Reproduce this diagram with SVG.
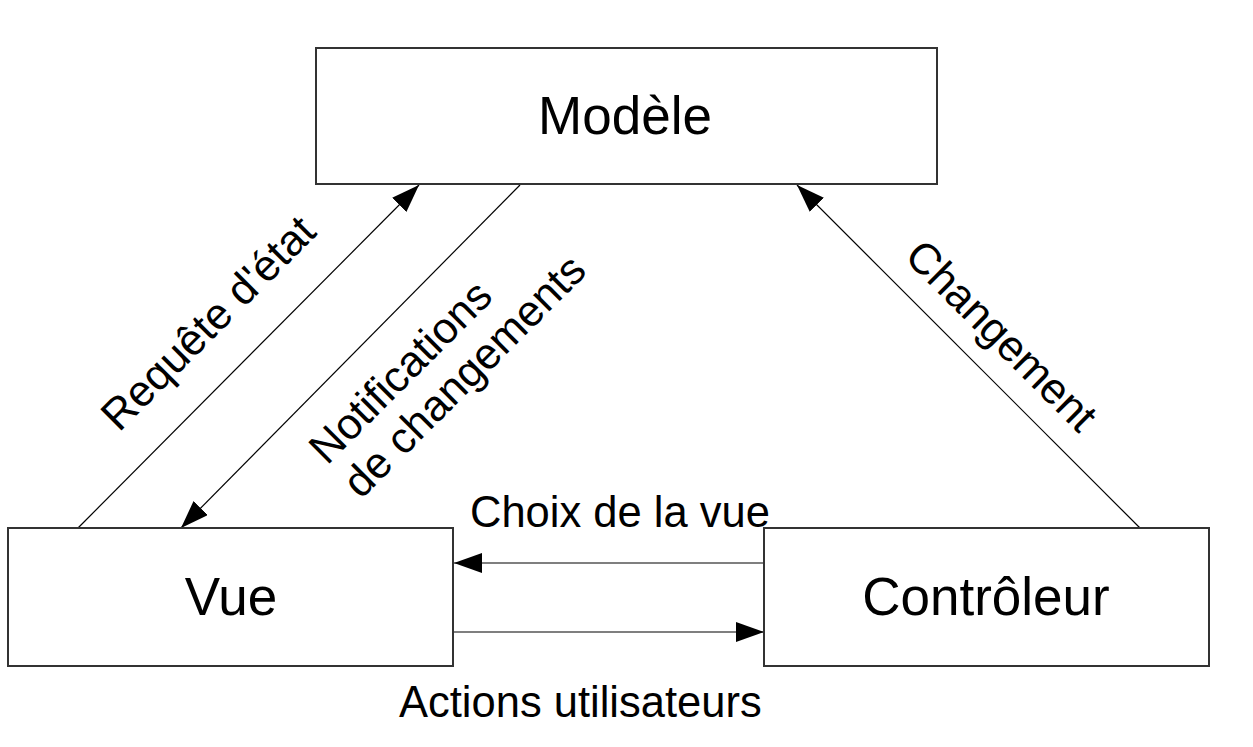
<svg xmlns="http://www.w3.org/2000/svg" width="1253" height="747" viewBox="0 0 1253 747">
<style>
.box{fill:#fff;stroke:#333;stroke-width:2}
.node{font-family:"Liberation Sans",Arial,sans-serif;font-size:53px;fill:#000;text-anchor:middle}
.lbl{font-family:"Liberation Sans",Arial,sans-serif;font-size:43.5px;fill:#000}
.edge{stroke:#000;stroke-width:1.2;fill:none;marker-end:url(#ah)}
</style>
<defs>
<marker id="ah" markerUnits="userSpaceOnUse" markerWidth="28" markerHeight="20" viewBox="0 0 28 20" refX="28" refY="10" orient="auto">
<path d="M0,0 L28,10 L0,20 z" fill="#000"/>
</marker>
</defs>
<rect width="1253" height="747" fill="#fff"/>
<g id="connectors">
<line class="edge" x1="78" y1="528" x2="419" y2="185"/>
<line class="edge" x1="520" y1="185" x2="181" y2="528"/>
<line class="edge" x1="1140" y1="528" x2="797" y2="185"/>
<line class="edge" x1="764" y1="563" x2="454" y2="563"/>
<line class="edge" x1="454" y1="632" x2="764" y2="632"/>
<text class="lbl" transform="translate(119,433) rotate(-45)">Requête d'état</text>
<text class="lbl" transform="translate(327,466) rotate(-45)"><tspan x="0" y="0">Notifications</tspan><tspan x="0" y="48">de changements</tspan></text>
<text class="lbl" transform="translate(903,258) rotate(45)">Changement</text>
<text class="lbl" x="470" y="527">Choix de la vue</text>
<text class="lbl" x="399" y="717">Actions utilisateurs</text>
</g>
<g id="modele">
<rect class="box" x="316" y="48" width="621" height="136"/>
<text class="node" x="625" y="134">Modèle</text>
</g>
<g id="vue">
<rect class="box" x="8" y="528" width="445" height="138"/>
<text class="node" x="231" y="615">Vue</text>
</g>
<g id="controleur">
<rect class="box" x="764" y="528" width="445" height="138"/>
<text class="node" x="986" y="615">Contrôleur</text>
</g>
</svg>
